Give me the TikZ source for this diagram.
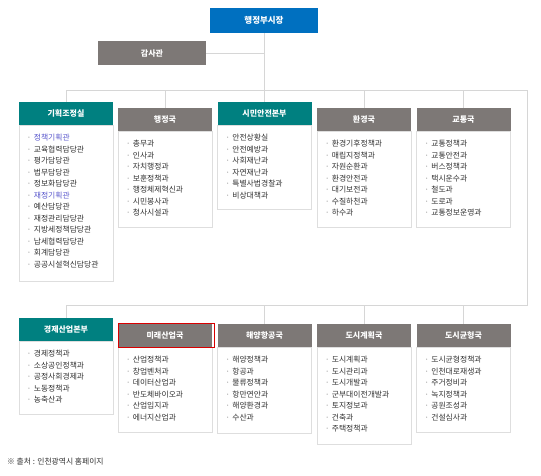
\documentclass[tikz,border=0pt]{standalone}
\usepackage{fontspec}
\setmainfont{Noto Sans CJK KR}
\usepackage{tikz}
\definecolor{vpblue}{RGB}{0,112,192}
\definecolor{hqteal}{RGB}{0,128,128}
\definecolor{bureau}{RGB}{125,120,118}
\definecolor{wiregray}{RGB}{214,214,214}
\definecolor{ink}{RGB}{50,50,50}
\definecolor{link}{RGB}{90,88,205}

\begin{document}
\begin{tikzpicture}[x=1pt,y=-1pt]
   \useasboundingbox (0,0) rectangle (541,475);
   \tikzstyle{head}=[minimum height=23, inner sep=0, text=white, font=\fontsize{8}{9}\selectfont\bfseries]
   \tikzstyle{list}=[draw=black!13, fill=white, inner sep=0]
   \tikzstyle{unit}=[anchor=west, inner sep=0, text=ink, font=\fontsize{7.8}{9}\selectfont]
   \tikzstyle{wire}=[draw=wiregray, line width=0.8]
   \node[head, fill=vpblue, minimum width=108, minimum height=25, font=\fontsize{8.5}{10}\selectfont\bfseries] (vice) at (264,20.5) {행정부시장};
   \node[head, fill=bureau, minimum width=108, minimum height=24] (audit) at (152,53) {감사관};
   \foreach \n/\x/\y/\col/\lbl/\h/\units in {
       h1/66/113.5/hqteal/기획조정실/156/{{\color{link}정책기획관},교육협력담당관,평가담당관,법무담당관,정보화담당관,{\color{link}재정기획관},예산담당관,재정관리담당관,지방세정책담당관,납세협력담당관,회계담당관,공공시설혁신담당관},
       h2/165/119.5/bureau/행정국/96/{총무과,인사과,자치행정과,보훈정책과,행정체제혁신과,시민봉사과,청사시설과},
       h3/264.5/113.5/hqteal/시민안전본부/84/{안전상황실,안전예방과,사회재난과,자연재난과,특별사법경찰과,비상대책과},
       h4/364/119.5/bureau/환경국/96/{환경기후정책과,매립지정책과,자원순환과,환경안전과,대기보전과,수질하천과,하수과},
       h5/463.5/119.5/bureau/교통국/96/{교통정책과,교통안전과,버스정책과,택시운수과,철도과,도로과,교통정보운영과},
       h6/66/329.5/hqteal/경제산업본부/73/{경제정책과,소상공인정책과,공정사회경제과,노동정책과,농축산과},
       h7/165/335.5/bureau/미래산업국/85/{산업정책과,창업벤처과,데이터산업과,반도체바이오과,산업입지과,에너지산업과},
       h8/264.5/335.5/bureau/해양항공국/86/{해양정책과,항공과,물류정책과,항만연안과,해양환경과,수산과},
       h9/364/335.5/bureau/도시계획국/97/{도시계획과,도시관리과,도시개발과,군부대이전개발과,토지정보과,건축과,주택정책과},
       h10/463.5/335.5/bureau/도시균형국/85/{도시균형정책과,인천대로재생과,주거정비과,녹지정책과,공원조성과,건설심사과}} {
       \node[head, fill=\col, minimum width=94] (\n) at (\x,\y) {\lbl};
       \node[list, minimum width=94, minimum height=\h, anchor=north] (\n-list) at (\n.south) {};
       \foreach \u [count=\i] in \units
           \node[unit] at ([xshift=8pt, yshift={-12.5pt-11.5pt*(\i-1)}]\n-list.north west) {{\color{black!45}·}\hspace{2.5pt}\u};
   }
   % connectors
   \coordinate (top-left) at (66,90);
   \coordinate (top-right) at (527,90);
   \coordinate (low-right) at (527,305);
   \coordinate (low-left) at (66,305);
   \draw[wire] (vice.south) -- (vice.south |- top-left);
   \draw[wire] (audit.east) -- (audit.east -| vice.south);
   \draw[wire] (top-left) -- (top-right) -- (low-right) -- (low-left);
   \foreach \n in {h1,h2,h3,h4,h5} \draw[wire] (\n.north |- top-left) -- (\n.north);
   \foreach \n in {h6,h8,h9,h10} \draw[wire] (\n.north |- low-left) -- (\n.north);
   \draw[red!85!black, line width=1.3] ([xshift=1pt]h7.north west) rectangle ([xshift=2.5pt]h7.south east);
   \node[unit] (source) at (7,462) {※ 출처 : 인천광역시 홈페이지};
\end{tikzpicture}
\end{document}
